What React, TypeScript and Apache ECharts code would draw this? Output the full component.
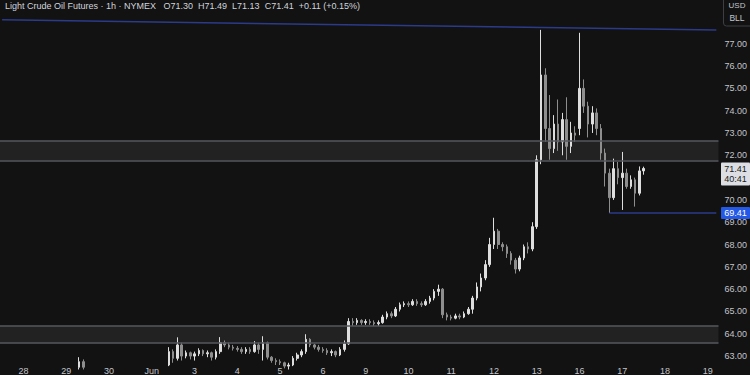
import React, { useEffect, useRef } from "react";
import * as echarts from "echarts";

// ---- axis / labels ----
const dayLabels = ["28", "29", "30", "Jun", "3", "4", "5", "6", "9", "10", "11", "12", "13", "16", "17", "18", "19"];
const barsPerDay = 10;
const firstDayIndex = 5;
const totalBars = 168;
const priceMin = 62.69;
const priceMax = 78.96;
const hiddenPriceLabels = [71, 78];

// ---- candles [open, close, low, high] ----
const may27 = [[61.2, 61.0, 60.9, 61.3], [61.0, 61.1, 60.8, 61.2], [61.1, 61.3, 61.0, 61.4], [61.3, 61.2, 61.1, 61.5], [61.2, 61.4, 61.1, 61.6]];
const may28 = [[61.4, 61.6, 61.3, 61.8], [61.6, 61.5, 61.3, 61.8], [61.5, 61.8, 61.4, 62.0], [61.8, 61.9, 61.6, 62.1], [61.9, 61.7, 61.5, 62.0], [61.7, 62.0, 61.6, 62.2], [62.0, 62.1, 61.8, 62.3], [62.1, 61.9, 61.7, 62.2], [61.9, 62.1, 61.8, 62.3], [62.1, 62.2, 61.9, 62.4]];
const may29 = [[62.2, 62.3, 62.0, 62.5], [62.3, 62.4, 62.1, 62.6], [62.4, 62.5, 62.2, 62.65], [62.5, 62.75, 62.4, 62.95], [62.75, 62.5, 62.4, 62.85], [62.5, 62.2, 62.0, 62.6], [62.2, 61.8, 61.5, 62.3], [61.8, 61.4, 61.2, 61.9], [61.4, 61.2, 60.9, 61.5], [61.2, 61.0, 60.8, 61.3]];
const may30 = [[61.0, 60.8, 60.6, 61.2], [60.8, 60.9, 60.5, 61.1], [60.9, 60.6, 60.4, 61.0], [60.6, 60.8, 60.4, 60.9], [60.8, 61.0, 60.7, 61.2], [61.0, 60.7, 60.5, 61.1], [60.7, 60.9, 60.6, 61.0], [60.9, 60.8, 60.6, 61.1], [60.8, 60.9, 60.7, 61.0], [60.9, 60.8, 60.7, 61.0]];
const jun02 = [[62.0, 62.3, 61.9, 62.5], [62.3, 62.2, 62.0, 62.5], [62.2, 62.4, 62.1, 62.6], [62.4, 62.6, 62.3, 62.68], [62.6, 63.2, 62.55, 63.4], [63.2, 62.9, 62.7, 63.3], [62.9, 63.5, 62.8, 63.84], [63.5, 63.0, 62.8, 63.6], [63.0, 63.15, 62.9, 63.25], [63.15, 63.0, 62.85, 63.2]];
const jun03 = [[63.0, 63.1, 62.8, 63.2], [63.1, 63.25, 63.0, 63.35], [63.25, 63.1, 63.0, 63.3], [63.1, 63.15, 62.95, 63.25], [63.15, 62.95, 62.8, 63.2], [62.95, 63.2, 62.85, 63.3], [63.2, 63.6, 63.1, 63.85], [63.6, 63.5, 63.4, 63.7], [63.5, 63.4, 63.3, 63.6], [63.4, 63.35, 63.25, 63.5]];
const jun04 = [[63.35, 63.3, 63.2, 63.45], [63.3, 63.2, 63.1, 63.4], [63.2, 63.3, 63.1, 63.4], [63.3, 63.2, 63.1, 63.4], [63.2, 63.5, 63.15, 63.67], [63.5, 63.3, 63.1, 63.6], [63.3, 63.6, 62.8, 63.89], [63.6, 62.95, 62.85, 63.65], [62.95, 62.8, 62.7, 63.0], [62.8, 62.75, 62.6, 62.9]];
const jun05 = [[62.75, 62.7, 62.6, 62.85], [62.7, 62.55, 62.45, 62.75], [62.55, 62.6, 62.4, 62.7], [62.6, 62.9, 62.55, 63.0], [62.9, 63.05, 62.8, 63.15], [63.05, 63.2, 62.95, 63.3], [63.2, 63.75, 63.1, 63.98], [63.75, 63.5, 63.4, 63.8], [63.5, 63.4, 63.3, 63.55], [63.4, 63.3, 63.2, 63.5]];
const jun06 = [[63.3, 63.25, 63.15, 63.4], [63.25, 63.15, 63.05, 63.35], [63.15, 63.2, 63.0, 63.3], [63.2, 63.05, 62.95, 63.25], [63.05, 63.3, 63.0, 63.4], [63.3, 63.55, 63.2, 63.7], [63.55, 64.55, 63.5, 64.7], [64.55, 64.5, 64.35, 64.7], [64.5, 64.6, 64.4, 64.7], [64.6, 64.5, 64.4, 64.65]];
const jun09 = [[64.5, 64.55, 64.4, 64.65], [64.55, 64.5, 64.4, 64.65], [64.5, 64.45, 64.35, 64.6], [64.45, 64.5, 64.35, 64.6], [64.5, 64.75, 64.45, 64.85], [64.75, 64.9, 64.65, 65.0], [64.9, 64.8, 64.7, 65.0], [64.8, 65.1, 64.75, 65.2], [65.1, 65.3, 65.0, 65.4], [65.3, 65.35, 65.2, 65.45]];
const jun10 = [[65.35, 65.3, 65.2, 65.45], [65.3, 65.45, 65.25, 65.55], [65.45, 65.35, 65.25, 65.55], [65.35, 65.3, 65.2, 65.45], [65.3, 65.45, 65.25, 65.55], [65.45, 65.6, 65.35, 65.7], [65.6, 65.9, 65.5, 66.0], [65.9, 66.0, 65.7, 66.2], [66.0, 64.85, 64.7, 66.05], [64.85, 64.75, 64.6, 64.95]];
const jun11 = [[64.75, 64.7, 64.6, 64.85], [64.7, 64.8, 64.65, 64.9], [64.8, 64.75, 64.65, 64.9], [64.75, 64.9, 64.7, 65.0], [64.9, 65.1, 64.85, 65.2], [65.1, 65.6, 64.9, 65.7], [65.6, 66.1, 65.5, 66.3], [66.1, 66.5, 65.9, 66.7], [66.5, 67.1, 66.4, 67.3], [67.1, 68.0, 67.0, 68.3]];
const jun12 = [[68.0, 68.6, 67.8, 69.2], [68.6, 68.0, 67.8, 68.7], [68.0, 67.9, 67.7, 68.1], [67.9, 67.6, 67.4, 68.0], [67.6, 67.3, 67.1, 67.7], [67.3, 66.9, 66.7, 67.4], [66.9, 67.4, 66.8, 67.5], [67.4, 67.9, 67.3, 68.0], [67.9, 67.8, 67.6, 68.1], [67.8, 68.8, 67.7, 69.0]];
const jun13 = [[68.8, 71.8, 68.7, 72.0], [71.8, 75.6, 71.6, 77.62], [75.6, 73.2, 72.6, 75.9], [73.2, 72.3, 71.8, 74.7], [72.3, 73.4, 72.1, 73.8], [73.4, 72.6, 72.2, 74.5], [72.6, 73.6, 72.0, 73.9], [73.6, 72.4, 71.8, 74.6], [72.4, 73.0, 72.1, 73.5], [73.0, 72.9, 72.6, 73.3]];
const jun16 = [[73.2, 75.0, 72.9, 77.49], [75.0, 74.2, 73.9, 75.4], [74.2, 73.4, 72.8, 74.4], [73.4, 73.9, 73.0, 74.2], [73.9, 73.2, 72.9, 74.1], [73.2, 72.1, 71.8, 73.4], [72.1, 71.2, 70.6, 72.3], [71.2, 70.1, 69.41, 71.4], [70.1, 71.4, 70.0, 71.85], [71.4, 71.0, 70.7, 71.7]];
const jun17 = [[71.0, 71.2, 69.55, 72.15], [71.2, 70.6, 70.5, 71.4], [70.6, 70.9, 70.5, 71.1], [70.9, 70.3, 69.7, 71.0], [70.3, 71.3, 70.2, 71.5], [71.3, 71.41, 71.13, 71.49]];

// ---- drawings ----
const upperZone = [71.77, 72.65];
const lowerZone = [63.58, 64.36];
const trendStartIndex = 0;
const trendStartPrice = 78.07;
const trendEndIndex = 167;
const trendEndPrice = 77.62;
const supportPrice = 69.41;
const supportStartIndex = 142;
const lastPrice = 71.41;
const countdown = "40:41";
const legendText = "Light Crude Oil Futures · 1h · NYMEX   O71.30  H71.49  L71.13  C71.41  +0.11 (+0.15%)";

const candles = [
  ...may27, ...may28, ...may29, ...may30, ...jun02, ...jun03, ...jun04, ...jun05,
  ...jun06, ...jun09, ...jun10, ...jun11, ...jun12, ...jun13, ...jun16, ...jun17,
];

const FONT = "'Liberation Sans', Arial, sans-serif";
const BG = "#121212";
const LABEL = "#c3c5ca";
const BLUE_LINE = "#2b3b8a";

export default function App() {
  const ref = useRef<HTMLDivElement>(null);
  useEffect(() => {
    document.body.style.margin = "0";
    document.body.style.background = BG;
    const chart = echarts.init(ref.current!, undefined, { renderer: "svg" });
    const cats = Array.from({ length: totalBars }, (_, i) => String(i));
    const zoneLine = { color: "#55585d", width: 1.5, type: "solid" };
    chart.setOption({
      animation: false,
      backgroundColor: BG,
      grid: { left: 0, right: 30, top: 0, bottom: 9 },
      xAxis: {
        type: "category",
        data: cats,
        boundaryGap: true,
        axisLine: { show: false },
        axisTick: { show: false },
        splitLine: { show: false },
        axisLabel: {
          interval: (idx: number) => idx >= firstDayIndex && (idx - firstDayIndex) % barsPerDay === 0,
          formatter: (_v: string, idx: number) => dayLabels[(idx - firstDayIndex) / barsPerDay] ?? "",
          color: LABEL,
          fontSize: 9,
          fontFamily: FONT,
          margin: 3,
        },
      },
      yAxis: {
        type: "value",
        position: "right",
        min: priceMin,
        max: priceMax,
        splitNumber: 16,
        minInterval: 1,
        maxInterval: 1,
        axisLine: { show: false },
        axisTick: { show: false },
        splitLine: { show: false },
        axisLabel: {
          showMinLabel: false,
          showMaxLabel: false,
          color: LABEL,
          fontSize: 9,
          fontFamily: FONT,
          margin: 6,
          formatter: (v: number) => {
            if (Math.abs(v - Math.round(v)) > 1e-6) return "";
            if (hiddenPriceLabels.includes(Math.round(v))) return "";
            return v.toFixed(2);
          },
        },
      },
      series: [
        {
          type: "candlestick",
          data: candles,
          clip: true,
          barWidth: "48%",
          itemStyle: {
            color: "#dedede",
            color0: "#8e8e8e",
            borderColor: "#dedede",
            borderColor0: "#8e8e8e",
            borderWidth: 1,
          },
          markArea: {
            silent: true,
            itemStyle: { color: "rgba(255,255,255,0.07)" },
            data: [
              [{ yAxis: upperZone[1] }, { yAxis: upperZone[0] }],
              [{ yAxis: lowerZone[1] }, { yAxis: lowerZone[0] }],
            ],
          },
          markLine: {
            silent: true,
            symbol: ["none", "none"],
            label: { show: false },
            lineStyle: { type: "solid" },
            data: [
              { yAxis: upperZone[0], lineStyle: zoneLine },
              { yAxis: upperZone[1], lineStyle: zoneLine },
              { yAxis: lowerZone[0], lineStyle: zoneLine },
              { yAxis: lowerZone[1], lineStyle: zoneLine },
              [
                { coord: [trendStartIndex, trendStartPrice], lineStyle: { color: BLUE_LINE, width: 1.5, type: "solid" } },
                { coord: [trendEndIndex, trendEndPrice] },
              ],
              [
                { coord: [supportStartIndex, supportPrice], lineStyle: { color: BLUE_LINE, width: 1.5, type: "solid" } },
                { coord: [totalBars - 1, supportPrice] },
              ],
            ],
          },
        },
      ],
    });

    const yLast = chart.convertToPixel({ yAxisIndex: 0 }, lastPrice) as number;
    const ySup = chart.convertToPixel({ yAxisIndex: 0 }, supportPrice) as number;
    const axisX = 721;
    const axisW = 29;
    chart.setOption({
      graphic: [
        {
          type: "text",
          x: 5,
          y: 1,
          z: 10,
          style: { text: legendText, fill: "#d1d4dc", fontSize: 9, fontFamily: FONT, verticalAlign: "top" },
        },
        {
          type: "rect",
          z: 10,
          shape: { x: 723.5, y: -10, width: 30, height: 36, r: 3 },
          style: { fill: BG, stroke: "#3c3e42", lineWidth: 1 },
        },
        {
          type: "text",
          z: 11,
          x: 737,
          y: 1,
          style: { text: "USD", fill: LABEL, fontSize: 8, fontFamily: FONT, align: "center", verticalAlign: "top" },
        },
        {
          type: "text",
          z: 11,
          x: 737,
          y: 18,
          style: { text: "BLL", fill: LABEL, fontSize: 8.5, fontFamily: FONT, align: "center", verticalAlign: "middle" },
        },
        {
          type: "rect",
          z: 10,
          shape: { x: axisX, y: yLast - 6, width: axisW, height: 23, r: 1 },
          style: { fill: "#dcdee3" },
        },
        {
          type: "text",
          z: 11,
          x: axisX + axisW / 2,
          y: yLast + 0.5,
          style: { text: lastPrice.toFixed(2), fill: "#1a1c20", fontSize: 9, fontFamily: FONT, align: "center", verticalAlign: "middle" },
        },
        {
          type: "text",
          z: 11,
          x: axisX + axisW / 2,
          y: yLast + 11,
          style: { text: countdown, fill: "#1a1c20", fontSize: 9, fontFamily: FONT, align: "center", verticalAlign: "middle" },
        },
        {
          type: "rect",
          z: 10,
          shape: { x: axisX, y: ySup - 6, width: axisW, height: 12, r: 1 },
          style: { fill: "#2458e6" },
        },
        {
          type: "text",
          z: 11,
          x: axisX + axisW / 2,
          y: ySup,
          style: { text: supportPrice.toFixed(2), fill: "#ffffff", fontSize: 9, fontFamily: FONT, align: "center", verticalAlign: "middle" },
        },
      ],
    });
    return () => chart.dispose();
  }, []);
  return (
    <div
      ref={ref}
      style={{ position: "fixed", left: 0, top: 0, width: 750, height: 375, background: BG }}
    />
  );
}
